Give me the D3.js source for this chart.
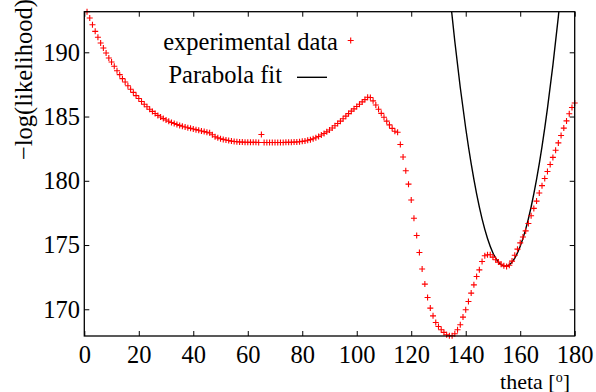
<!DOCTYPE html>
<html>
<head>
<meta charset="utf-8">
<script src="https://cdn.jsdelivr.net/npm/d3@7"></script>
<style>
    body { margin: 0; background: #fff; }
    svg { display: block; font-family: 'Liberation Serif', 'Times New Roman', serif; }
    .axis text { font-family: 'Liberation Serif', 'Times New Roman', serif; font-size: 24.5px; fill: #000; }
    .axis line { stroke: #000; stroke-width: 1; }
    .axis path { display: none; }
</style>
</head>
<body>
<div id="chart"></div>
<script>
// angle grid of the scan (1 degree steps)
const theta = d3.range(1, 181);

// -log(likelihood), one per degree
const logLik = [
    193.16, 192.67, 192.15, 191.63, 191.17, 190.72, 190.33, 189.95, 189.56, 189.25,
    188.91, 188.57, 188.26, 187.95, 187.69, 187.40, 187.13, 186.88, 186.63, 186.40,
    186.17, 185.96, 185.76, 185.57, 185.40, 185.24, 185.09, 184.96, 184.84, 184.73,
    184.63, 184.54, 184.46, 184.38, 184.31, 184.25, 184.19, 184.13, 184.08, 184.03,
    183.98, 183.93, 183.88, 183.83, 183.78, 183.73, 183.58, 183.43, 183.34, 183.27,
    183.22, 183.17, 183.13, 183.09, 183.06, 183.04, 183.02, 183.01, 183.00, 183.00,
    182.99, 182.99, 182.99, 182.98, 183.60, 182.98, 182.98, 182.98, 182.98, 182.98,
    182.98, 182.98, 182.98, 182.99, 182.99, 183.00, 183.01, 183.02, 183.04, 183.07,
    183.10, 183.15, 183.20, 183.27, 183.35, 183.45, 183.56, 183.68, 183.81, 183.95,
    184.11, 184.28, 184.46, 184.64, 184.83, 185.03, 185.23, 185.42, 185.60, 185.78,
    185.96, 186.14, 186.32, 186.50, 186.48, 186.22, 185.90, 185.57, 185.25, 184.94,
    184.64, 184.35, 184.08, 183.86, 183.78, 182.82, 181.85, 180.78, 179.74, 178.50,
    177.09, 175.74, 174.42, 173.13, 171.96, 170.92, 170.09, 169.49, 168.97, 168.66,
    168.41, 168.20, 168.02, 167.94, 167.94, 168.09, 168.41, 168.79, 169.39, 169.96,
    170.61, 171.26, 171.90, 172.55, 173.07, 173.72, 174.16, 174.24, 174.24, 174.06,
    173.85, 173.67, 173.51, 173.38, 173.33, 173.43, 173.75, 174.20, 174.68, 175.17,
    175.62, 176.10, 176.68, 177.28, 177.85, 178.42, 179.05, 179.62, 180.18, 180.72,
    181.27, 181.82, 182.38, 182.95, 183.52, 184.10, 184.66, 185.22, 185.70, 186.06
];

// parabola fit, read at a few angles
const fitTheta = [134, 136, 138, 140, 142, 144, 146, 148, 150, 152, 154,
                  156, 158, 160, 162, 164, 166, 168, 170, 172, 174, 176];
const fitValue = [194.82, 190.84, 187.26, 184.09, 181.33, 178.98, 177.04, 175.51, 174.38, 173.67, 173.36,
                  173.46, 173.98, 174.90, 176.22, 177.96, 180.11, 182.66, 185.63, 189.00, 192.78, 196.97];

const xTicks = [0, 20, 40, 60, 80, 100, 120, 140, 160, 180];
const yTicks = [170, 175, 180, 185, 190];
const legendLabels = ['experimental data', 'Parabola fit'];

class LikelihoodPlot {
    constructor(_config) {
        this.config = {
            parentElement: _config.parentElement,
            containerWidth: _config.containerWidth || 596,
            containerHeight: _config.containerHeight || 392,
            margin: _config.margin || { top: 11.7, right: 21.3, bottom: 56, left: 84.3 }
        };
        this.initVis();
    }

    initVis() {
        let vis = this;

        vis.width = vis.config.containerWidth - vis.config.margin.left - vis.config.margin.right;
        vis.height = vis.config.containerHeight - vis.config.margin.top - vis.config.margin.bottom;

        vis.svg = d3.select(vis.config.parentElement)
            .append('svg')
            .attr('width', vis.config.containerWidth)
            .attr('height', vis.config.containerHeight);

        vis.chart = vis.svg.append('g')
            .attr('transform', `translate(${vis.config.margin.left},${vis.config.margin.top})`);

        vis.xScale = d3.scaleLinear()
            .domain([0, 180])
            .range([0, vis.width]);

        vis.yScale = d3.scaleLinear()
            .domain([167.92, 193.16])
            .range([vis.height, 0]);

        // inward ticks on all four sides, like gnuplot
        vis.xAxis = d3.axisBottom(vis.xScale).tickValues(xTicks).tickSize(-5).tickPadding(9.3);
        vis.yAxis = d3.axisLeft(vis.yScale).tickValues(yTicks).tickSize(-5).tickPadding(4.3);
        vis.xAxisTop = d3.axisTop(vis.xScale).tickValues(xTicks).tickSize(-5).tickFormat('');
        vis.yAxisRight = d3.axisRight(vis.yScale).tickValues(yTicks).tickSize(-5).tickFormat('');

        vis.chart.append('g')
            .attr('class', 'axis x-axis')
            .attr('transform', `translate(0,${vis.height})`)
            .call(vis.xAxis);
        vis.chart.append('g')
            .attr('class', 'axis y-axis')
            .call(vis.yAxis);
        vis.chart.append('g')
            .attr('class', 'axis')
            .call(vis.xAxisTop);
        vis.chart.append('g')
            .attr('class', 'axis')
            .attr('transform', `translate(${vis.width},0)`)
            .call(vis.yAxisRight);

        vis.chart.append('clipPath')
            .attr('id', 'plot-clip')
            .append('rect')
            .attr('width', vis.width)
            .attr('height', vis.height);

        // y-axis label
        vis.svg.append('text')
            .attr('transform', 'translate(32,160) rotate(-90)')
            .style('font-size', '24.5px')
            .text('\u2212log(likelihood)');

        // x-axis label (sits at the very bottom edge, as in the original)
        const xLabel = vis.svg.append('text')
            .attr('x', 570)
            .attr('y', 388.5)
            .style('text-anchor', 'end')
            .style('font-size', '22px');
        xLabel.append('tspan').text('theta [');
        xLabel.append('tspan').attr('dy', -7).style('font-size', '14px').text('o');
        xLabel.append('tspan').attr('dy', 7).text(']');
    }

    updateVis() {
        let vis = this;
        vis.points = theta.map((t, i) => ({ theta: t, value: logLik[i] }));
        vis.fit = fitTheta.map((t, i) => ({ theta: t, value: fitValue[i] }));
        vis.renderVis();
    }

    renderVis() {
        let vis = this;
        const plus = 'M-3,0H3M0,-3V3';

        const line = d3.line()
            .x(d => vis.xScale(d.theta))
            .y(d => vis.yScale(d.value))
            .curve(d3.curveNatural);

        vis.chart.append('path')
            .datum(vis.fit)
            .attr('clip-path', 'url(#plot-clip)')
            .attr('d', line)
            .attr('fill', 'none')
            .attr('stroke', '#000')
            .attr('stroke-width', 1.4);

        vis.chart.selectAll('.pt')
            .data(vis.points)
            .join('path')
            .attr('class', 'pt')
            .attr('transform', d => `translate(${vis.xScale(d.theta)},${vis.yScale(d.value)})`)
            .attr('d', plus)
            .attr('stroke', '#ff0000')
            .attr('stroke-width', 1.1);

        // frame
        vis.chart.append('rect')
            .attr('width', vis.width)
            .attr('height', vis.height)
            .attr('fill', 'none')
            .attr('stroke', '#000')
            .attr('stroke-width', 1.3);

        // key
        const key = vis.svg.append('g').style('font-size', '24.5px');
        key.append('text')
            .attr('x', 338).attr('y', 50)
            .style('text-anchor', 'end')
            .text(legendLabels[0]);
        key.append('path')
            .attr('transform', 'translate(350.7,40.5)')
            .attr('d', plus)
            .attr('stroke', '#ff0000')
            .attr('stroke-width', 1.1);
        key.append('text')
            .attr('x', 282).attr('y', 83.3)
            .style('text-anchor', 'end')
            .text(legendLabels[1]);
        key.append('line')
            .attr('x1', 297).attr('x2', 327)
            .attr('y1', 77.3).attr('y2', 77.3)
            .attr('stroke', '#000')
            .attr('stroke-width', 1.4);
    }
}

const plot = new LikelihoodPlot({ parentElement: '#chart' });
plot.updateVis();
</script>
</body>
</html>
